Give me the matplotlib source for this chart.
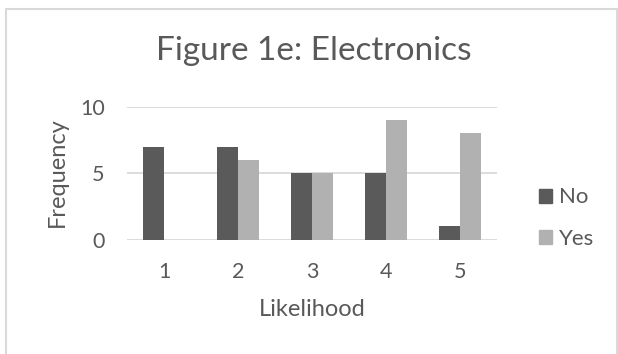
import matplotlib
matplotlib.use("Agg")
import matplotlib.pyplot as plt
from matplotlib.patches import Rectangle, Patch
import numpy as np

# Survey responses: how likely respondents are to buy electronics
likelihood = ["1", "2", "3", "4", "5"]
freq_no = [7, 7, 5, 5, 1]
freq_yes = [0, 6, 5, 9, 8]
y_ticks = [0, 5, 10]

TEXT = "#595959"
DARK = "#5a5a5a"
LIGHT = "#b1b1b1"
GRID = "#d9d9d9"
FONT = "Lato"

plt.rcParams["font.family"] = [FONT, "DejaVu Sans"]

W, H = 618, 354
fig = plt.figure(figsize=(W / 100, H / 100), dpi=100)

# chart frame
fig.patches.append(Rectangle((5.5 / W, -0.1), 611 / W, (H - 8.5) / H + 0.1,
                             transform=fig.transFigure, fill=False,
                             edgecolor=GRID, linewidth=1.5))

left, right = 127 / W, 497 / W
bottom, top = 1 - 239.7 / H, 1 - 106.7 / H
ax = fig.add_axes([left, bottom, right - left, top - bottom])

x = np.arange(len(likelihood))
bw = 0.284
ax.bar(x - bw / 2, freq_no, bw, color=DARK, label="No", zorder=3)
ax.bar(x + bw / 2, freq_yes, bw, color=LIGHT, label="Yes", zorder=3)

ax.set_xlim(-0.5, len(likelihood) - 0.5)
ax.set_ylim(0, 10)
ax.set_yticks(y_ticks)
ax.set_xticks(x, likelihood)
for yv in y_ticks:
    ax.axhline(yv, color=GRID, linewidth=1.3, zorder=1)
for s in ax.spines.values():
    s.set_visible(False)
ax.tick_params(axis="both", length=0, labelsize=15.5, colors=TEXT)
ax.tick_params(axis="y", pad=16)
ax.tick_params(axis="x", pad=16)

fig.text(313.5 / W, 1 - 51 / H, "Figure 1e: Electronics", ha="center",
         va="center", fontsize=24, color=TEXT)
fig.text(57 / W, 1 - 172 / H, "Frequency", rotation=90, ha="center",
         va="center", fontsize=17, color=TEXT)
fig.text(312 / W, 1 - 309 / H, "Likelihood", ha="center", va="center",
         fontsize=17, color=TEXT)

handles = [Patch(color=DARK), Patch(color=LIGHT)]
fig.legend(handles, ["No", "Yes"], loc="center left",
           bbox_to_anchor=(539 / W, 1 - 218 / H), frameon=False,
           fontsize=16, labelcolor=TEXT, handlelength=0.6, handleheight=0.6,
           handletextpad=0.3, labelspacing=0.95, borderpad=0, borderaxespad=0)

fig.savefig("out.png", dpi=100)
